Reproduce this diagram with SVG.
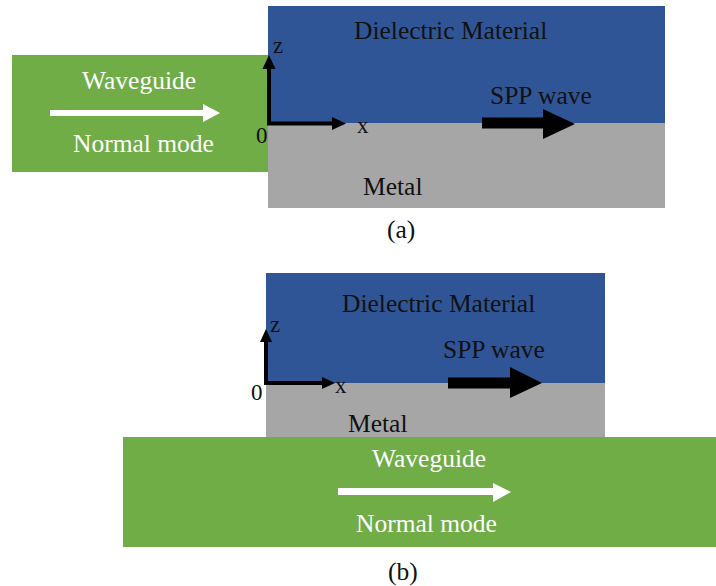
<svg xmlns="http://www.w3.org/2000/svg" width="716" height="586" viewBox="0 0 716 586">
<style>
text{font-family:'Liberation Serif','DejaVu Serif',serif;font-size:25.5px;fill:#111}
text.w{fill:#ffffff}
text.ax{font-size:23px}
.diel{fill:#2F5597}
.metal{fill:#A6A6A6}
.wg{fill:#70AD47}
.axis{fill:none;stroke:#000;stroke-width:4;stroke-linejoin:miter}
</style>
<rect width="716" height="586" fill="#ffffff"/>
<g id="panel-a" font-family="Liberation Serif, serif">
  <g id="a-waveguide">
    <rect class="wg" x="12" y="55" width="256" height="117"/>
    <text class="w" x="82" y="89">Waveguide</text>
    <text class="w" x="73" y="152">Normal mode</text>
  </g>
  <g id="a-dielectric">
    <rect class="diel" x="268" y="6" width="397" height="117"/>
    <text x="354" y="39">Dielectric Material</text>
    <text x="490" y="104">SPP wave</text>
  </g>
  <g id="a-metal">
    <rect class="metal" x="268" y="123" width="397" height="85"/>
    <text x="363" y="195">Metal</text>
  </g>
  <g id="a-axes">
    <path class="axis" d="M269,68 V123.5 H333"/>
    <polygon points="262.5,69 269,55 275.5,69"/>
    <polygon points="332,117 346,123.5 332,130"/>
    <text class="ax" x="273" y="53">z</text>
    <text class="ax" x="357" y="133">x</text>
    <text class="ax" x="256" y="143">0</text>
  </g>
  <text x="387" y="238">(a)</text>
</g>
<g id="panel-b" font-family="Liberation Serif, serif">
  <g id="b-dielectric">
    <rect class="diel" x="266" y="273" width="339" height="110"/>
    <text x="342" y="312">Dielectric Material</text>
    <text x="443" y="358">SPP wave</text>
  </g>
  <g id="b-metal">
    <rect class="metal" x="266" y="383" width="339" height="54"/>
    <text x="348" y="432">Metal</text>
  </g>
  <g id="b-waveguide">
    <rect class="wg" x="123" y="437" width="593" height="110"/>
    <text class="w" x="372" y="467">Waveguide</text>
    <text class="w" x="356" y="532">Normal mode</text>
  </g>
  <g id="b-axes">
    <path class="axis" d="M266,341 V383 H323"/>
    <polygon points="260,342 266,329 272,342"/>
    <polygon points="322,377 335,383 322,389"/>
    <text class="ax" x="270" y="332">z</text>
    <text class="ax" x="335" y="393">x</text>
    <text class="ax" x="251" y="400">0</text>
  </g>
  <text x="388" y="580">(b)</text>
</g>
<g id="connectors">
  <path id="a-normal-arrow" d="M50,110 H203 V104 L220,113 L203,122 V116 H50 Z" fill="#ffffff"/>
  <path id="a-spp-arrow" d="M482,117.5 H543 V109 L575,124 L543,139 V128.5 H482 Z" fill="#000"/>
  <path id="b-spp-arrow" d="M448,377.5 H510 V367 L542,383 L510,398 V388.5 H448 Z" fill="#000"/>
  <path id="b-normal-arrow" d="M338,488 H493 V483 L511,492 L493,502 V495 H338 Z" fill="#ffffff"/>
</g>
</svg>
